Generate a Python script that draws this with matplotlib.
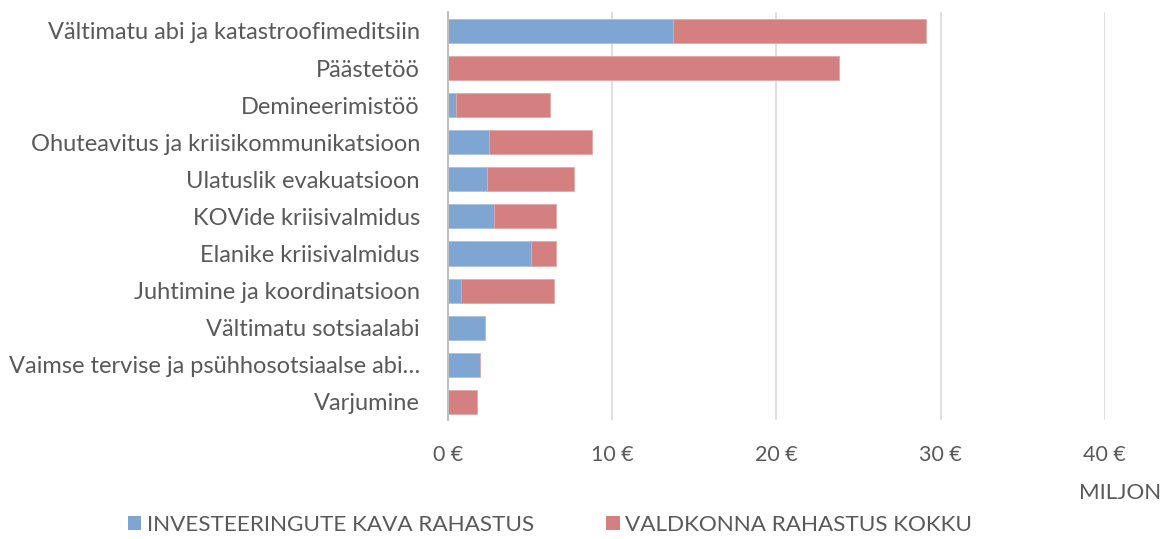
import matplotlib
matplotlib.use("Agg")
import matplotlib.pyplot as plt
from matplotlib.patches import Patch

categories = [
    "Vältimatu abi ja katastroofimeditsiin",
    "Päästetöö",
    "Demineerimistöö",
    "Ohuteavitus ja kriisikommunikatsioon",
    "Ulatuslik evakuatsioon",
    "KOVide kriisivalmidus",
    "Elanike kriisivalmidus",
    "Juhtimine ja koordinatsioon",
    "Vältimatu sotsiaalabi",
    "Vaimse tervise ja psühhosotsiaalse abi…",
    "Varjumine",
]
investment = [13.7, 0.0, 0.5, 2.5, 2.4, 2.8, 5.05, 0.83, 2.25, 1.95, 0.0]
sector = [15.4, 23.8, 5.7, 6.3, 5.3, 3.8, 1.55, 5.62, 0.0, 0.0, 1.75]
xticks = [0, 10, 20, 30, 40]
xticklabels = ["0 €", "10 €", "20 €", "30 €", "40 €"]
series_names = ["INVESTEERINGUTE KAVA RAHASTUS", "VALDKONNA RAHASTUS KOKKU"]

blue = "#7fa6d2"
red = "#d48080"
txt = "#595959"

plt.rcParams['font.family'] = ['Lato', 'DejaVu Sans']

fig = plt.figure(figsize=(11.63, 5.39), dpi=100)
ax = fig.add_axes([0.385, 0.22, 0.565, 0.757])

y = list(range(len(categories)))
ax.barh(y, investment, height=0.65, color=blue, edgecolor="#a9c2e3", linewidth=0.6, zorder=3)
ax.barh(y, sector, left=investment, height=0.65, color=red, edgecolor="#e3a9a9", linewidth=0.6, zorder=3)

ax.set_ylim(len(categories) - 0.5, -0.5)
ax.set_yticks(y)
ax.set_yticklabels(categories, fontsize=17.0, color=txt)
ax.set_xlim(0, 40)
ax.set_xticks(xticks)
ax.set_xticklabels(xticklabels, fontsize=15.5, color=txt)
ax.tick_params(axis='both', length=0)
ax.tick_params(axis='x', pad=18)
ax.tick_params(axis='y', pad=20)
ax.grid(axis='x', color="#d9d9d9", linewidth=1.2, zorder=0)
for s in ["top", "right", "bottom"]:
    ax.spines[s].set_visible(False)
ax.spines["left"].set_color("#bfbfbf")
ax.spines["left"].set_linewidth(1.5)
ax.spines["left"].set_zorder(4)

fig.text(1120 / 1163, 1 - 493 / 539, "MILJON", ha="center", va="center", fontsize=16, color=txt)

handles = [Patch(facecolor=blue), Patch(facecolor=red)]
fig.legend(handles, series_names, loc="center", bbox_to_anchor=(550 / 1163, 1 - 525 / 539),
           ncol=2, frameon=False, fontsize=16.2, labelcolor=txt, handlelength=0.6, handleheight=0.6,
           handletextpad=0.25, columnspacing=3.2)

fig.savefig("out.png", dpi=100)
